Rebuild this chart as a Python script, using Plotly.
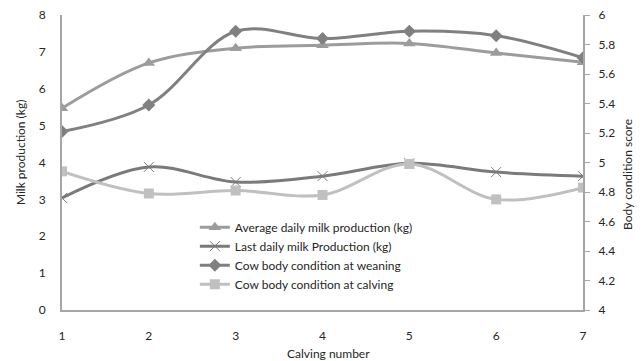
import plotly.graph_objects as go

calving = [1, 2, 3, 4, 5, 6, 7]
avg_milk = [5.47, 6.70, 7.10, 7.18, 7.23, 6.97, 6.72]
last_milk = [3.04, 3.88, 3.47, 3.63, 3.98, 3.74, 3.63]
bcs_weaning = [5.21, 5.39, 5.89, 5.84, 5.89, 5.86, 5.71]
bcs_calving = [4.94, 4.79, 4.81, 4.78, 4.99, 4.75, 4.83]

FONT = "Lato, 'Open Sans', sans-serif"
AX = "#a6a6a6"
TXT = "#262626"
SM = 1.0

fig = go.Figure()
fig.add_trace(go.Scatter(x=calving, y=avg_milk, name="Average daily milk production (kg)",
                         mode="lines+markers", line=dict(color="#9c9c9c", width=3, shape="spline", smoothing=SM),
                         marker=dict(symbol="triangle-up", size=11, color="#9c9c9c")))
fig.add_trace(go.Scatter(x=calving, y=last_milk, name="Last daily milk Production (kg)",
                         mode="lines+markers", line=dict(color="#7a7a7a", width=3, shape="spline", smoothing=SM),
                         marker=dict(symbol="x-thin-open", size=10, color="#7a7a7a", line=dict(width=1, color="#7a7a7a"))))
fig.add_trace(go.Scatter(x=calving, y=bcs_weaning, name="Cow body condition at weaning", yaxis="y2",
                         mode="lines+markers", line=dict(color="#808080", width=3, shape="spline", smoothing=SM),
                         marker=dict(symbol="diamond", size=10, color="#808080")))
fig.add_trace(go.Scatter(x=calving, y=bcs_calving, name="Cow body condition at calving", yaxis="y2",
                         mode="lines+markers", line=dict(color="#c0c0c0", width=3, shape="spline", smoothing=SM),
                         marker=dict(symbol="square", size=10, color="#c0c0c0")))

fig.update_layout(
    width=643, height=361,
    margin=dict(l=62, r=60, t=15, b=51, autoexpand=False),
    paper_bgcolor="white", plot_bgcolor="white",
    font=dict(family=FONT, size=12, color=TXT),
    showlegend=True,
    legend=dict(x=0.255, y=0.33, xanchor="left", yanchor="top", bgcolor="rgba(0,0,0,0)",
                font=dict(size=12, color=TXT), tracegroupgap=0, itemwidth=30),
    xaxis=dict(range=[1, 7], tickvals=calving, showgrid=False, zeroline=False, automargin=False,
               showline=True, linecolor=AX, linewidth=2, ticks="", ticklabelstandoff=14),
    yaxis=dict(range=[0, 8], dtick=1, showgrid=False, zeroline=False, automargin=False,
               showline=True, linecolor=AX, linewidth=2, ticks="", ticklabelstandoff=12),
    yaxis2=dict(range=[4, 6], dtick=0.2, overlaying="y", side="right", showgrid=False, zeroline=False,
                automargin=False,
                showline=True, linecolor=AX, linewidth=2, ticks="outside", ticklen=5, tickcolor=AX,
                tickformat="~g", ticklabelstandoff=6),
    annotations=[
        dict(text="Calving number", xref="paper", yref="paper", x=0.512, y=-0.146,
             showarrow=False, xanchor="center", yanchor="middle", font=dict(size=12, color=TXT)),
        dict(text="Milk production (kg)", xref="paper", yref="paper", x=-0.0806, y=0.532,
             showarrow=False, xanchor="center", yanchor="middle", textangle=-90,
             font=dict(size=12, color=TXT)),
        dict(text="Body condition score", xref="paper", yref="paper", x=1.0864, y=0.458,
             showarrow=False, xanchor="center", yanchor="middle", textangle=-90,
             font=dict(size=12, color=TXT)),
    ],
)

fig.write_html("out.html")
